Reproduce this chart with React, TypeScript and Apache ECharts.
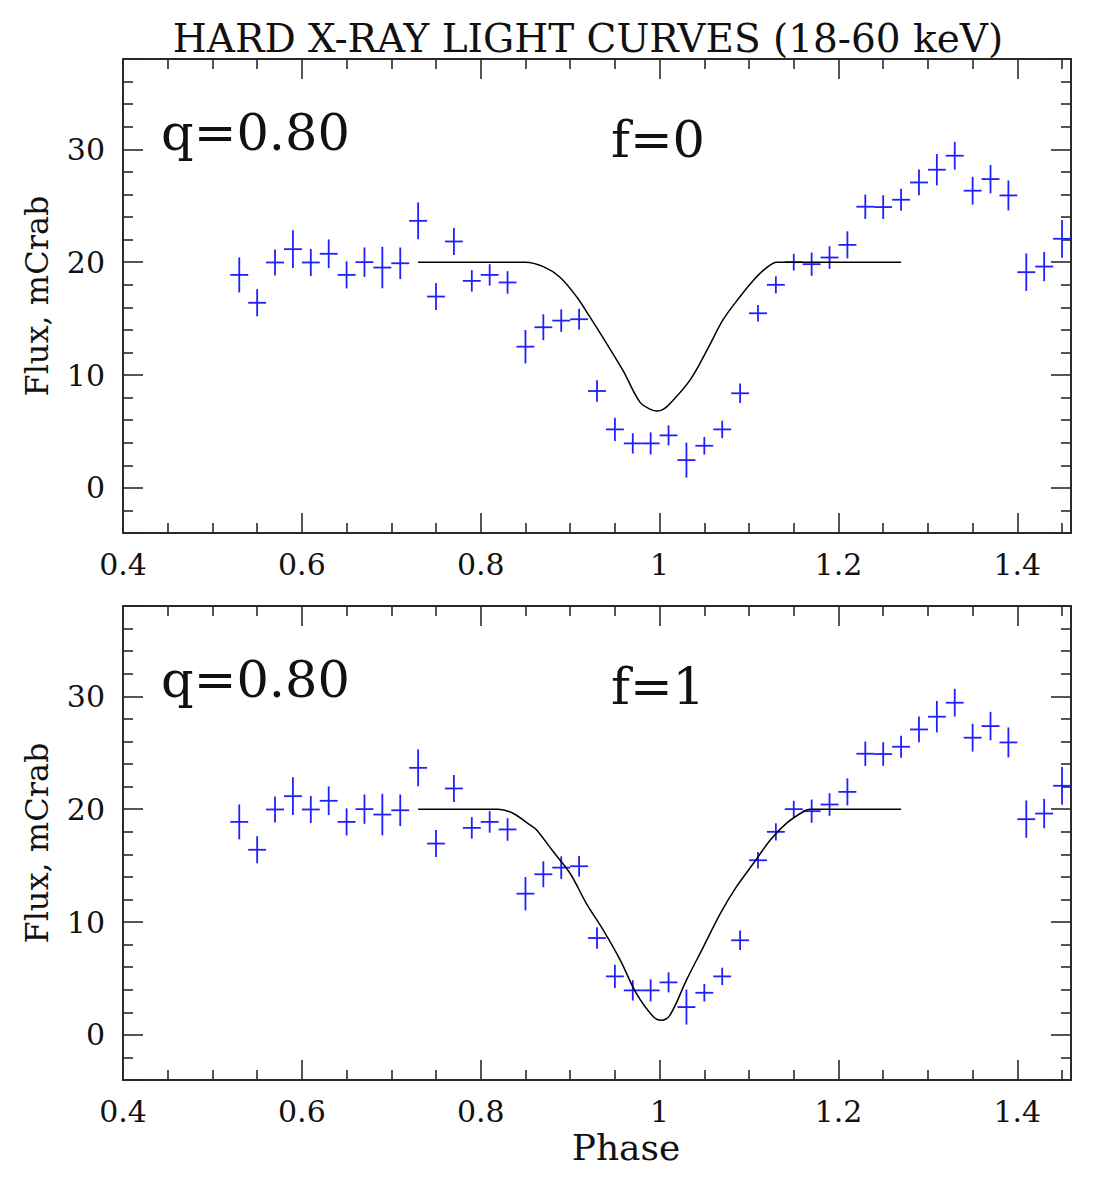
import React, { useEffect, useRef } from 'react';
import * as echarts from 'echarts';

// ---- Data ----
const phase = [0.53, 0.55, 0.57, 0.59, 0.61, 0.63, 0.65, 0.67, 0.69, 0.71, 0.73, 0.75, 0.77, 0.79, 0.81, 0.83, 0.85, 0.87, 0.89, 0.91, 0.93, 0.95, 0.97, 0.99, 1.01, 1.03, 1.05, 1.07, 1.09, 1.11, 1.13, 1.15, 1.17, 1.19, 1.21, 1.23, 1.25, 1.27, 1.29, 1.31, 1.33, 1.35, 1.37, 1.39, 1.41, 1.43, 1.45];
const flux = [18.87, 16.4, 19.97, 21.15, 19.97, 20.74, 18.87, 20.0, 19.52, 19.9, 23.66, 16.95, 21.83, 18.34, 18.87, 18.2, 12.51, 14.23, 14.82, 14.94, 8.58, 5.18, 3.94, 3.94, 4.65, 2.46, 3.73, 5.18, 8.38, 15.47, 17.99, 20.0, 19.82, 20.41, 21.53, 24.91, 24.88, 25.53, 27.06, 28.19, 29.43, 26.33, 27.36, 25.91, 19.11, 19.61, 22.07];
const fluxErr = [1.55, 1.2, 1.15, 1.67, 1.2, 1.27, 1.2, 1.3, 1.84, 1.4, 1.63, 1.2, 1.2, 0.95, 0.95, 1.0, 1.48, 1.15, 1.0, 0.92, 0.96, 1.03, 0.9, 0.98, 0.89, 1.55, 0.78, 0.77, 0.86, 0.74, 0.76, 0.74, 1.03, 1.0, 1.2, 1.08, 1.05, 0.98, 1.14, 1.39, 1.23, 1.23, 1.26, 1.33, 1.66, 1.3, 1.67];
const phaseHalfBin = 0.01;

const modelF0Phase = [0.73, 0.84, 0.85, 0.87, 0.888, 0.907, 0.922, 0.936, 0.959, 0.978, 0.99, 0.997, 1.004, 1.012, 1.034, 1.053, 1.071, 1.09, 1.105, 1.118, 1.131, 1.14, 1.27];
const modelF0Flux = [20, 20, 20, 19.6, 18.7, 16.95, 15.15, 13.4, 10.4, 7.6, 6.95, 6.8, 6.95, 7.5, 9.55, 12.2, 14.9, 16.95, 18.4, 19.4, 20, 20, 20];

const modelF1Phase = [0.73, 0.81, 0.8195, 0.836, 0.855, 0.862, 0.881, 0.9, 0.918, 0.937, 0.956, 0.974, 0.993, 1.0016, 1.0116, 1.03, 1.049, 1.068, 1.086, 1.105, 1.124, 1.142, 1.161, 1.168, 1.18, 1.27];
const modelF1Flux = [20, 20, 20, 19.64, 18.6, 18.2, 16.24, 14.3, 11.66, 9.29, 6.63, 3.67, 1.6, 1.3, 1.75, 4.85, 7.8, 10.77, 13.13, 15.2, 17.28, 18.76, 19.79, 20, 20, 20];

const xTickLabels = ['0.4', '0.6', '0.8', '1', '1.2', '1.4'];
const yTickLabels = ['0', '10', '20', '30'];

const titleText = 'HARD X-RAY LIGHT CURVES (18-60 keV)';
const qLabels = ['q=0.80', 'q=0.80'];
const fLabels = ['f=0', 'f=1'];
const yName = 'Flux, mCrab';
const xName = 'Phase';

// ---- Layout / style ----
const FONT = "'DejaVu Serif', 'Liberation Serif', serif";
const BLUE = '#1f1fff';
const INK = '#111';
const FRAME = '#2a2a2a';
const GRID_LEFT = 123;
const GRID_WIDTH = 948;
const GRID_HEIGHT = 474;
const GRID_TOPS = [59, 606];
const PANEL_DY = 547;

const X_MIN = 0.4, X_MAX = 1.46, Y_MIN = -4, Y_MAX = 38;

function xFmt(v: number) {
  const hit = xTickLabels.find((s) => Math.abs(Number(s) - v) < 1e-6);
  return hit ?? '';
}
function yFmt(v: number) {
  const hit = yTickLabels.find((s) => Math.abs(Number(s) - v) < 1e-6);
  return hit ?? '';
}

function makeXAxis(gridIndex: number, position: 'top' | 'bottom') {
  return {
    type: 'value', gridIndex, position, min: X_MIN, max: X_MAX,
    axisLine: { show: true, onZero: false, lineStyle: { color: FRAME, width: 2 } },
    axisTick: { show: true, inside: true, length: 20, lineStyle: { color: FRAME, width: 1.6 } },
    minorTick: { show: true, splitNumber: 4, length: 10, lineStyle: { color: FRAME, width: 1.6 } },
    splitLine: { show: false }, minorSplitLine: { show: false },
    axisLabel: {
      show: position === 'bottom', formatter: xFmt, margin: 16,
      fontFamily: FONT, fontSize: 30, color: INK,
    },
  };
}
function makeYAxis(gridIndex: number, position: 'left' | 'right') {
  return {
    type: 'value', gridIndex, position, min: Y_MIN, max: Y_MAX,
    axisLine: { show: true, onZero: false, lineStyle: { color: FRAME, width: 2 } },
    axisTick: { show: true, inside: true, length: 20, lineStyle: { color: FRAME, width: 1.6 } },
    minorTick: { show: true, splitNumber: 5, length: 10, lineStyle: { color: FRAME, width: 1.6 } },
    splitLine: { show: false }, minorSplitLine: { show: false },
    axisLabel: {
      show: position === 'left', formatter: yFmt, margin: 18,
      fontFamily: FONT, fontSize: 30, color: INK,
    },
  };
}

function crossSeries(panel: number) {
  return {
    type: 'custom',
    xAxisIndex: panel * 2, yAxisIndex: panel * 2,
    dimensions: ['phase', 'flux', 'err'],
    encode: { x: 0, y: 1 },
    data: phase.map((p, k) => [p, flux[k], fluxErr[k]]),
    renderItem: (_params: any, api: any) => {
      const x = api.value(0), y = api.value(1), e = api.value(2);
      const l = api.coord([x - phaseHalfBin, y]);
      const r = api.coord([x + phaseHalfBin, y]);
      const t = api.coord([x, y + e]);
      const b = api.coord([x, y - e]);
      const st = { stroke: BLUE, lineWidth: 1.8 };
      return {
        type: 'group',
        children: [
          { type: 'line', shape: { x1: l[0], y1: l[1], x2: r[0], y2: r[1] }, style: st },
          { type: 'line', shape: { x1: t[0], y1: t[1], x2: b[0], y2: b[1] }, style: st },
        ],
      };
    },
    z: 3,
  };
}

function modelSeries(panel: number, xs: number[], ys: number[]) {
  return {
    type: 'line', xAxisIndex: panel * 2, yAxisIndex: panel * 2,
    data: xs.map((p, k) => [p, ys[k]]),
    showSymbol: false, symbol: 'none', smooth: 0.35,
    lineStyle: { color: '#000', width: 1.5 },
    z: 4,
  };
}

function txt(text: string, x: number, y: number, size: number, align: string, rotation = 0) {
  return {
    type: 'text', x, y, rotation, silent: true,
    style: {
      text, fill: INK, fontFamily: FONT, fontSize: size,
      align, verticalAlign: 'middle', textAlign: align, textVerticalAlign: 'middle',
    },
  };
}

export default function App() {
  const ref = useRef<HTMLDivElement>(null);
  useEffect(() => {
    if (!ref.current) return;
    const chart = echarts.init(ref.current, null, { renderer: 'svg' });
    const option: any = {
      animation: false,
      backgroundColor: '#fff',
      grid: GRID_TOPS.map((top) => ({ left: GRID_LEFT, top, width: GRID_WIDTH, height: GRID_HEIGHT, containLabel: false })),
      xAxis: [makeXAxis(0, 'bottom'), makeXAxis(0, 'top'), makeXAxis(1, 'bottom'), makeXAxis(1, 'top')],
      yAxis: [makeYAxis(0, 'left'), makeYAxis(0, 'right'), makeYAxis(1, 'left'), makeYAxis(1, 'right')],
      series: [
        crossSeries(0), modelSeries(0, modelF0Phase, modelF0Flux),
        crossSeries(1), modelSeries(1, modelF1Phase, modelF1Flux),
      ],
      graphic: [
        txt(titleText, 588, 38.7, 39, 'center'),
        txt(qLabels[0], 161, 132.5, 51, 'left'),
        txt(fLabels[0], 611, 139.2, 51, 'left'),
        txt(yName, 37, 296, 32, 'center', Math.PI / 2),
        txt(qLabels[1], 161, 132.5 + PANEL_DY, 51, 'left'),
        txt(fLabels[1], 611, 139.2 + PANEL_DY, 51, 'left'),
        txt(yName, 37, 296 + PANEL_DY, 32, 'center', Math.PI / 2),
        txt(xName, 626, 1147.5, 36, 'center'),
      ],
    };
    chart.setOption(option);
    return () => chart.dispose();
  }, []);
  return <div ref={ref} style={{ position: 'absolute', left: 0, top: 0, width: 1100, height: 1188 }} />;
}
